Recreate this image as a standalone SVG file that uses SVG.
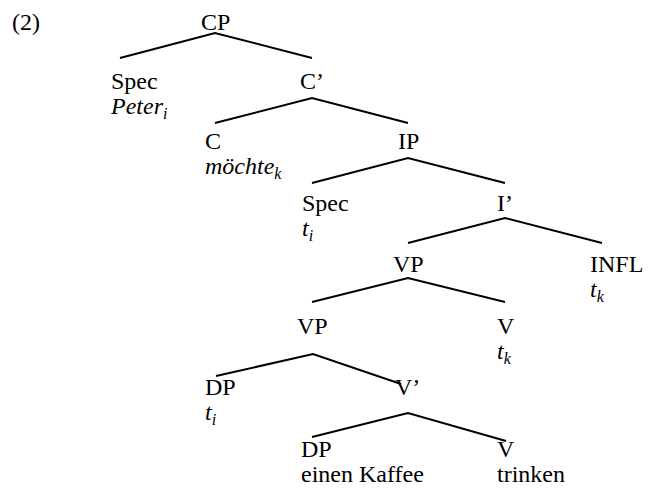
<svg xmlns="http://www.w3.org/2000/svg" width="650" height="492" viewBox="0 0 650 492">
  <style>
    text { font-family: "Liberation Serif", "Times New Roman", serif; font-size: 24px; fill: #000; }
    .it { font-style: italic; }
    .sub { font-size: 16px; }
    .edge { stroke: #000; stroke-width: 2; fill: none; stroke-linecap: butt; }
  </style>
  <rect width="650" height="492" fill="#fff"/>

  <text id="ex-number" x="12" y="30">(2)</text>

  <!-- branches: each path runs left daughter, mother, right daughter -->
  <g id="edges">
    <path class="edge" d="M120,58 L215,33 L312,58"/>
    <path class="edge" d="M215,123 L312,98 L408,123"/>
    <path class="edge" d="M312,183 L408,158 L505,183"/>
    <path class="edge" d="M408,243 L505,218 L602,243"/>
    <path class="edge" d="M312,302 L408,278 L505,302"/>
    <path class="edge" d="M216,376 L313,354 L401,384"/>
    <path class="edge" d="M312,437 L408,413 L506,441"/>
  </g>

  <g id="cp"><text x="201" y="30">CP</text></g>
  <g id="spec-cp">
    <text x="111" y="89">Spec</text>
    <text x="111" y="114" class="it">Peter<tspan class="sub" dy="5">i</tspan></text>
  </g>
  <g id="c-bar"><text x="300" y="89">C’</text></g>
  <g id="c-head">
    <text x="205" y="149">C</text>
    <text x="205" y="174" class="it">möchte<tspan class="sub" dy="5">k</tspan></text>
  </g>
  <g id="ip"><text x="398" y="149">IP</text></g>
  <g id="spec-ip">
    <text x="302" y="211">Spec</text>
    <text x="302" y="236" class="it">t<tspan class="sub" dy="5">i</tspan></text>
  </g>
  <g id="i-bar"><text x="497" y="211">I’</text></g>
  <g id="vp-upper"><text x="393" y="272">VP</text></g>
  <g id="infl">
    <text x="590" y="272">INFL</text>
    <text x="590" y="297" class="it">t<tspan class="sub" dy="5">k</tspan></text>
  </g>
  <g id="vp-lower"><text x="297" y="334">VP</text></g>
  <g id="v-upper">
    <text x="497" y="334">V</text>
    <text x="497" y="359" class="it">t<tspan class="sub" dy="5">k</tspan></text>
  </g>
  <g id="dp-upper">
    <text x="205" y="395">DP</text>
    <text x="205" y="420" class="it">t<tspan class="sub" dy="5">i</tspan></text>
  </g>
  <g id="v-bar"><text x="395" y="395">V’</text></g>
  <g id="dp-lower">
    <text x="301" y="457">DP</text>
    <text x="301" y="482">einen Kaffee</text>
  </g>
  <g id="v-lower">
    <text x="497" y="457">V</text>
    <text x="497" y="482">trinken</text>
  </g>
</svg>
